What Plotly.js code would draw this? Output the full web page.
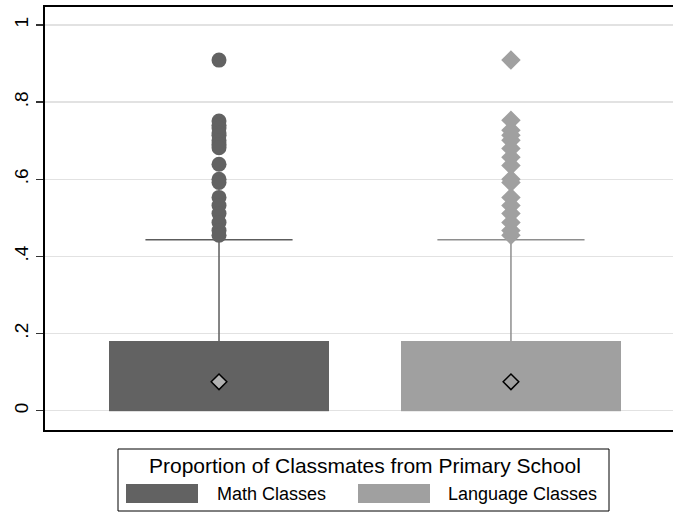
<!DOCTYPE html>
<html>
<head>
<meta charset="utf-8">
<script src="https://cdn.plot.ly/plotly-3.0.1.min.js"></script>
<style>html,body{margin:0;padding:0;background:#fff;}#chart{width:673px;height:512px;}</style>
</head>
<body>
<div id="chart"></div>
<script>
// ---- data ----
const categories = ["Math Classes", "Language Classes"];
const legendTitle = "Proportion of Classmates from Primary School";
const q1 = [0, 0];
const median = [0, 0];
const q3 = [0.181, 0.181];
const upperWhisker = [0.443, 0.443];
const means = [0.075, 0.075];
const outliersMath = [0.909, 0.751, 0.740, 0.733, 0.720, 0.714, 0.700, 0.690, 0.682, 0.639, 0.600, 0.592, 0.553, 0.532, 0.511, 0.488, 0.467, 0.455];
const outliersLang = [0.909, 0.753, 0.727, 0.714, 0.701, 0.680, 0.657, 0.636, 0.600, 0.592, 0.553, 0.532, 0.511, 0.488, 0.467, 0.455];
const yTickVals = [0, 0.2, 0.4, 0.6, 0.8, 1];
const yTickText = ["0", ".2", ".4", ".6", ".8", "1"];

// ---- styling ----
const fills = ["#626262", "#a0a0a0"];
const whiskerColors = ["#5c5c5c", "#8e8e8e"];
const meanFills = ["#b2b2b2", "#a0a0a0"];
const outlierSymbols = ["circle", "diamond"];
const boxWidth = 0.753;
const capHalf = 0.252;
const W = 673, H = 512;
const M = {l: 45, r: 0, t: 7, b: 82};
const FONT = "Liberation Sans, Arial, Helvetica, sans-serif";

const xs = categories.map((c, i) => i);
const outliers = [outliersMath, outliersLang];
const traces = [];

// boxes (q1 -> q3)
categories.forEach((c, i) => {
  traces.push({
    type: "bar", x: [xs[i]], y: [q3[i] - q1[i]], base: [q1[i]], width: boxWidth,
    marker: {color: fills[i], line: {width: 0}}, name: c, showlegend: false, hoverinfo: "skip"
  });
});
// whiskers + caps + median
categories.forEach((c, i) => {
  traces.push({
    type: "scatter", mode: "lines", x: [xs[i], xs[i]], y: [q3[i], upperWhisker[i]],
    line: {color: whiskerColors[i], width: 1.5}, showlegend: false, hoverinfo: "skip"
  });
  traces.push({
    type: "scatter", mode: "lines", x: [xs[i] - capHalf, xs[i] + capHalf], y: [upperWhisker[i], upperWhisker[i]],
    line: {color: whiskerColors[i], width: 1.5}, showlegend: false, hoverinfo: "skip"
  });
  traces.push({
    type: "scatter", mode: "lines", x: [xs[i] - boxWidth / 2, xs[i] + boxWidth / 2], y: [median[i], median[i]],
    line: {color: fills[i], width: 1}, showlegend: false, hoverinfo: "skip"
  });
});
// outliers
categories.forEach((c, i) => {
  traces.push({
    type: "scatter", mode: "markers", x: outliers[i].map(() => xs[i]), y: outliers[i],
    marker: {symbol: outlierSymbols[i], size: 15, color: fills[i], line: {width: 0}},
    showlegend: false, hoverinfo: "y"
  });
});
// means
categories.forEach((c, i) => {
  traces.push({
    type: "scatter", mode: "markers", x: [xs[i]], y: [means[i]],
    marker: {symbol: "diamond", size: 12, color: meanFills[i], line: {color: "#000", width: 1.5}},
    showlegend: false, hoverinfo: "y"
  });
});

// custom legend (Stata-style box below the plot)
const plotW = W - M.l - M.r, plotH = H - M.t - M.b;
const px = v => (v - M.l) / plotW;
const py = v => (H - M.b - v) / plotH;
const shapes = [
  {type: "rect", xref: "paper", yref: "paper", x0: px(118), x1: px(609), y0: py(449), y1: py(511),
   line: {color: "#000", width: 1}, fillcolor: "rgba(0,0,0,0)"}
];
const swatchX = [[126, 198], [358, 430]];
const labelX = [215, 446];
categories.forEach((c, i) => {
  shapes.push({type: "rect", xref: "paper", yref: "paper", x0: px(swatchX[i][0]), x1: px(swatchX[i][1]),
    y0: py(484), y1: py(503), line: {width: 0}, fillcolor: fills[i]});
});
const annotations = [
  {xref: "paper", yref: "paper", x: px(365), y: py(465), text: legendTitle, showarrow: false,
   xanchor: "center", yanchor: "middle", font: {family: FONT, size: 21, color: "#000"}}
];
categories.forEach((c, i) => {
  annotations.push({xref: "paper", yref: "paper", x: px(labelX[i]), y: py(494), text: c, showarrow: false,
    xanchor: "left", yanchor: "middle", font: {family: FONT, size: 18, color: "#000"}});
});

const layout = {
  width: W, height: H, margin: M,
  paper_bgcolor: "#fff", plot_bgcolor: "#fff",
  font: {family: FONT, size: 16, color: "#000"},
  showlegend: false,
  bargap: 0,
  xaxis: {
    range: [-0.596, 1.555], showgrid: false, zeroline: false, showticklabels: false, ticks: "",
    showline: true, linecolor: "#000", linewidth: 2, mirror: true, fixedrange: true
  },
  yaxis: {
    range: [-0.050, 1.0467], tickvals: yTickVals, ticktext: yTickText, tickangle: -90,
    ticks: "outside", ticklen: 7, tickwidth: 1.5, tickcolor: "#333", ticklabelstandoff: 0,
    showgrid: true, gridcolor: "#e2e2e2", gridwidth: 1.5, zeroline: false,
    showline: true, linecolor: "#000", linewidth: 2, mirror: false,
    tickfont: {family: FONT, size: 19, color: "#000"}, fixedrange: true
  },
  shapes: shapes,
  annotations: annotations
};

Plotly.newPlot("chart", traces, layout, {staticPlot: true, displayModeBar: false});
</script>
</body>
</html>
